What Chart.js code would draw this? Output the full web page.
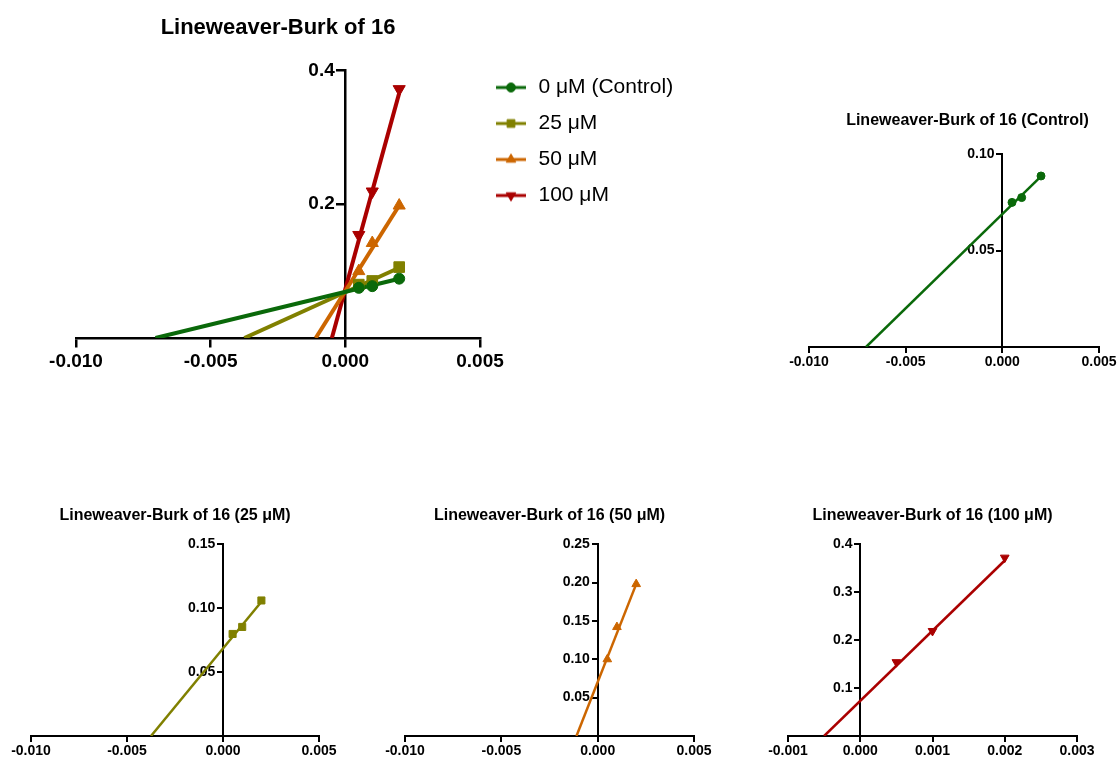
<!DOCTYPE html>
<html>
<head>
<meta charset="utf-8">
<script src="https://cdn.jsdelivr.net/npm/chart.js@4.4.1/dist/chart.umd.min.js"></script>
<style>
  body { margin: 0; background: #fff; width: 1118px; height: 760px; overflow: hidden; position: relative; }
  canvas { position: absolute; }
</style>
</head>
<body>
<canvas id="main" width="520" height="380" style="left:0;top:0"></canvas>
<canvas id="legend" width="230" height="340" style="left:479px;top:62px"></canvas>
<canvas id="control" width="360" height="280" style="left:770px;top:100px"></canvas>
<canvas id="c25" width="340" height="270" style="left:0;top:490px"></canvas>
<canvas id="c50" width="345" height="270" style="left:370px;top:490px"></canvas>
<canvas id="c100" width="370" height="270" style="left:750px;top:490px"></canvas>
<script>
// Lineweaver-Burk of compound 16: 1/[S] against 1/v at each inhibitor level
const invSubstrate = [0.0005, 0.001, 0.002];
const rateControl = [0.075, 0.0775, 0.0887];
const rate25 = [0.0798, 0.0853, 0.106];
const rate50 = [0.100, 0.142, 0.198];
const rate100 = [0.154, 0.219, 0.372];

// fitted lines, from the x intercept up to the last point
const fitControlX = [-0.00705, 0.002];
const fitControlY = [0, 0.0885];
const fit25X = [-0.00375, 0.002];
const fit25Y = [0, 0.105];
const fit50X = [-0.0011, 0.002];
const fit50Y = [0, 0.198];
const fit100X = [-0.0005, 0.002];
const fit100Y = [0, 0.366];

const seriesNames = ["0 μM (Control)", "25 μM", "50 μM", "100 μM"];
const panelNames = ["Control", "25 μM", "50 μM", "100 μM"];

// tick labels
const wideXTicks = [-0.010, -0.005, 0.000, 0.005];
const narrowXTicks = [-0.001, 0.000, 0.001, 0.002, 0.003];
const mainYTicks = [0.2, 0.4];
const controlYTicks = [0.05, 0.10];
const yTicks25 = [0.05, 0.10, 0.15];
const yTicks50 = [0.05, 0.10, 0.15, 0.20, 0.25];
const yTicks100 = [0.1, 0.2, 0.3, 0.4];

const rates = [rateControl, rate25, rate50, rate100];
const fitX = [fitControlX, fit25X, fit50X, fit100X];
const fitY = [fitControlY, fit25Y, fit50Y, fit100Y];

// styles
const FONT = "'Liberation Sans', Arial, sans-serif";
const colors = ["#0a690a", "#808000", "#cc6600", "#aa0000"];
const markers = ["circle", "rect", "triangle", "triangle"];
const markerRotation = [0, 0, 0, 180];

const toPoints = (xs, ys) => xs.map((x, i) => ({ x, y: ys[i] }));

// marker datasets come first so they are drawn over the fit lines
const pointSet = (i, radii) => ({
  label: seriesNames[i],
  data: toPoints(invSubstrate, rates[i]),
  backgroundColor: colors[i],
  borderColor: colors[i],
  pointStyle: markers[i],
  rotation: markerRotation[i],
  pointRadius: radii[i],
  pointBorderWidth: 1,
});

const fitSet = (i, width) => ({
  data: toPoints(fitX[i], fitY[i]),
  showLine: true,
  borderColor: colors[i],
  borderWidth: width,
  pointRadius: 0,
});

const axes = (o) => {
  const grid = { drawOnChartArea: false, color: "#000", lineWidth: o.lw, tickLength: o.tl };
  const border = { color: "#000", width: o.lw };
  const font = { family: FONT, size: o.size, weight: "bold" };
  return {
    x: {
      type: "linear",
      min: o.xTicks[0],
      max: o.xTicks[o.xTicks.length - 1],
      position: { y: 0 },
      afterBuildTicks: (s) => { s.ticks = o.xTicks.map((v) => ({ value: v })); },
      ticks: { callback: (v) => v.toFixed(3), font, color: "#000", padding: o.pad, maxRotation: 0, autoSkip: false },
      grid,
      border,
    },
    y: {
      type: "linear",
      min: 0,
      max: o.yTicks[o.yTicks.length - 1],
      position: { x: 0 },
      afterBuildTicks: (s) => { s.ticks = o.yTicks.map((v) => ({ value: v })); },
      // labels of a value-positioned axis sit right on the line, so pad them
      ticks: { callback: (v) => v.toFixed(o.yDigits) + "  ", font, color: "#000", autoSkip: false },
      grid,
      border,
    },
  };
};

const titleOpts = (text, size, bottom) => ({
  display: true,
  text,
  color: "#000",
  font: { family: FONT, size, weight: "bold" },
  padding: { top: 0, bottom },
});

// small line+marker pictures for the legend
const legendIcon = (i) => {
  const c = document.createElement("canvas");
  c.width = 30;
  c.height = 16;
  const g = c.getContext("2d");
  g.strokeStyle = colors[i];
  g.fillStyle = colors[i];
  g.lineWidth = 3;
  g.beginPath();
  g.moveTo(0, 8);
  g.lineTo(30, 8);
  g.stroke();
  g.lineWidth = 1;
  const r = markers[i] === "circle" ? 4.5 : 5.5;
  Chart.helpers.drawPoint(g, { pointStyle: markers[i], rotation: markerRotation[i], radius: r, borderWidth: 1 }, 15, 8);
  return c;
};

Chart.defaults.animation = false;
Chart.defaults.events = [];
Chart.defaults.responsive = false;
Chart.defaults.plugins.tooltip.enabled = false;

// main plot with all four series
new Chart(document.getElementById("main"), {
  type: "scatter",
  data: {
    datasets: [
      ...[0, 1, 2, 3].map((i) => pointSet(i, [5.5, 7.5, 7, 7])),
      ...[0, 1, 2, 3].map((i) => fitSet(i, 4)),
    ],
  },
  options: {
    layout: { padding: { left: 76, top: 15, right: 40, bottom: 42 } },
    scales: axes({ xTicks: wideXTicks, yTicks: mainYTicks, yDigits: 1, size: 19, lw: 2.5, tl: 8, pad: 4 }),
    plugins: {
      title: titleOpts("Lineweaver-Burk of 16", 22, 29),
      legend: { display: false },
    },
  },
});

// legend of the main plot, on its own canvas beside it (narrow, so one entry per row)
new Chart(document.getElementById("legend"), {
  type: "scatter",
  data: { datasets: seriesNames.map((label) => ({ label, data: [] })) },
  options: {
    scales: { x: { display: false }, y: { display: false } },
    plugins: {
      legend: {
        position: "top",
        align: "start",
        labels: {
          usePointStyle: true,
          pointStyleWidth: 34,
          padding: 15,
          color: "#000",
          font: { family: FONT, size: 21 },
          generateLabels: () =>
            seriesNames.map((text, i) => ({
              text,
              pointStyle: legendIcon(i),
              rotation: 0,
              datasetIndex: i,
              fontColor: "#000",
              lineWidth: 0,
              hidden: false,
            })),
        },
      },
    },
  },
});

// one small panel per series
const panels = [
  { id: "control", xTicks: wideXTicks, yTicks: controlYTicks, yDigits: 2, pad: { left: 39, top: 11, right: 4, bottom: 33 }, titleGap: 24 },
  { id: "c25", xTicks: wideXTicks, yTicks: yTicks25, yDigits: 2, pad: { left: 31, top: 16, right: 21, bottom: 24 }, titleGap: 19 },
  { id: "c50", xTicks: wideXTicks, yTicks: yTicks50, yDigits: 2, pad: { left: 35, top: 16, right: 21, bottom: 24 }, titleGap: 19 },
  { id: "c100", xTicks: narrowXTicks, yTicks: yTicks100, yDigits: 1, pad: { left: 38, top: 16, right: 43, bottom: 24 }, titleGap: 19 },
];

panels.forEach((p, i) => {
  // the control title sits a little right of its plot: an empty right-hand
  // legend narrows the plot area under the full-width title
  const legend = i === 0
    ? { display: true, position: "right", fullSize: false, labels: { padding: 17, filter: () => false } }
    : { display: false };
  new Chart(document.getElementById(p.id), {
    type: "scatter",
    data: { datasets: [pointSet(i, [4, 5, 5, 5]), fitSet(i, 2.5)] },
    options: {
      layout: { padding: p.pad },
      scales: axes({ xTicks: p.xTicks, yTicks: p.yTicks, yDigits: p.yDigits, size: 14, lw: 2, tl: 5, pad: 2 }),
      plugins: {
        title: titleOpts("Lineweaver-Burk of 16 (" + panelNames[i] + ")", 16, p.titleGap),
        legend,
      },
    },
  });
});
</script>
</body>
</html>
